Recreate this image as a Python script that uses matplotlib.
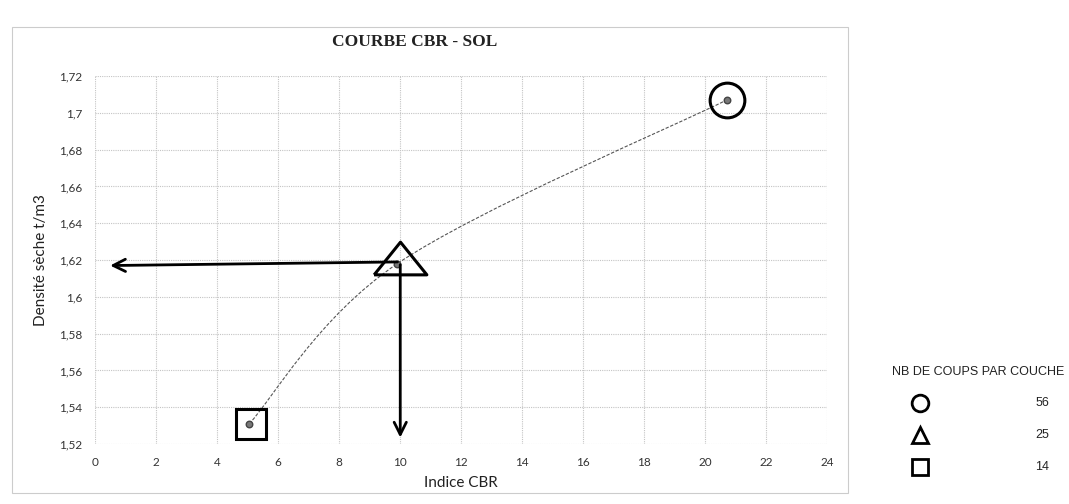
import matplotlib.pyplot as plt
from matplotlib.path import Path
from matplotlib.patches import PathPatch, Rectangle
from matplotlib.ticker import FuncFormatter

# data
cbr = [5.05, 9.9, 20.7]
density = [1.531, 1.618, 1.707]
blows = [14, 25, 56]
marker_of = {56: "o", 25: "^", 14: "s"}
x_ticks = list(range(0, 25, 2))
y_ticks = [1.52, 1.54, 1.56, 1.58, 1.60, 1.62, 1.64, 1.66, 1.68, 1.70, 1.72]
read_cbr = 10.0
read_density = 1.617

fig = plt.figure(figsize=(10.69, 5.04), dpi=100)
ax = fig.add_axes([0.089, 0.119, 0.685, 0.730])

# chart area frame (Excel-like)
fig.patches.append(Rectangle((0.011, 0.022), 0.782, 0.925, transform=fig.transFigure,
                             fill=False, edgecolor="#cccccc", linewidth=0.8))

# smoothed connector through the points (Catmull-Rom -> cubic bezier)
verts = [(cbr[0], density[0])]
codes = [Path.MOVETO]
n = len(cbr)
for i in range(n - 1):
    p0 = (cbr[max(i - 1, 0)], density[max(i - 1, 0)])
    p1 = (cbr[i], density[i])
    p2 = (cbr[i + 1], density[i + 1])
    p3 = (cbr[min(i + 2, n - 1)], density[min(i + 2, n - 1)])
    c1 = (p1[0] + (p2[0] - p0[0]) / 6, p1[1] + (p2[1] - p0[1]) / 6)
    c2 = (p2[0] - (p3[0] - p1[0]) / 6, p2[1] - (p3[1] - p1[1]) / 6)
    verts += [c1, c2, p2]
    codes += [Path.CURVE4] * 3
ax.add_patch(PathPatch(Path(verts, codes), fill=False, edgecolor="#555555",
                       linewidth=0.8, linestyle=(0, (3, 1.5)), zorder=3))

ax.scatter(cbr, density, s=22, color="#777777", edgecolor="#444444", zorder=4)

# wide, flat triangle as drawn on the sheet
flat_tri = [(-1, -0.62), (1, -0.62), (0, 0.62), (-1, -0.62)]
shape = {56: ("o", 25, 0.0, 0.0), 25: (flat_tri, 38, 0.1, 0.003), 14: ("s", 21, 0.05, 0.0)}
for x, y, b in zip(cbr, density, blows):
    m, ms, dx, dy = shape[b]
    ax.plot(x + dx, y + dy, marker=m, markersize=ms, markerfacecolor="none",
            markeredgecolor="black", markeredgewidth=2.2, zorder=5)

# reading arrows
ax.annotate("", xy=(0.4, read_density), xytext=(read_cbr, read_density + 0.002),
            arrowprops=dict(arrowstyle="->", color="black", lw=2, mutation_scale=22), zorder=6)
ax.annotate("", xy=(read_cbr, 1.522), xytext=(read_cbr, read_density + 0.002),
            arrowprops=dict(arrowstyle="->", color="black", lw=2, mutation_scale=22), zorder=6)

ax.set_xlim(0, 24)
ax.set_ylim(1.52, 1.72)
ax.set_xticks(x_ticks)
ax.set_yticks(y_ticks)
ax.yaxis.set_major_formatter(FuncFormatter(lambda v, p: ("%g" % round(v, 2)).replace(".", ",")))
ax.grid(True, color="#c4c4c4", linestyle=(0, (1, 1)), linewidth=0.8)
ax.set_axisbelow(True)
for s in ax.spines.values():
    s.set_visible(False)
ax.tick_params(length=0, labelsize=8.5, colors="#333333", pad=9)
for lab in ax.get_xticklabels() + ax.get_yticklabels():
    lab.set_family("Lato")

ax.set_xlabel("Indice CBR", family="Lato", fontsize=11, color="#222222", labelpad=6)
ax.set_ylabel("Densité sèche t/m3", family="Lato", fontsize=11, color="#222222", labelpad=8)
fig.text(0.388, 0.917, "COURBE CBR - SOL", family="Liberation Serif", fontweight="bold",
         fontsize=12.5, ha="center", va="center", color="#222222")

# legend block on the right
fig.text(0.915, 0.262, "NB DE COUPS PAR COUCHE", family="Liberation Sans", fontsize=9,
         ha="center", va="center", color="#222222")
leg_y = [0.200, 0.137, 0.073]
for b, yy in zip([56, 25, 14], leg_y):
    fig.lines.append(plt.Line2D([0.861], [yy], marker=marker_of[b], markersize=12,
                                markerfacecolor="none", markeredgecolor="black",
                                markeredgewidth=2, transform=fig.transFigure))
    fig.text(0.975, yy, str(b), family="Liberation Sans", fontsize=9,
             ha="center", va="center", color="#222222")

fig.savefig("out.png", dpi=100, facecolor="white")
